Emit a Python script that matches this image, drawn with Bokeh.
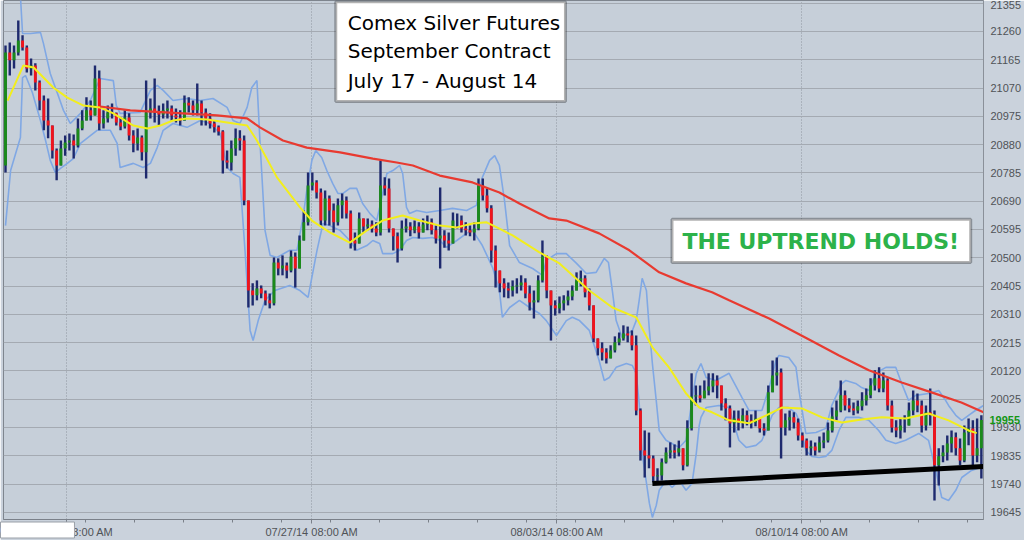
from bokeh.plotting import figure
from bokeh.models import (Range1d, FixedTicker, BoxAnnotation, Label, BasicTickFormatter,
                          LinearAxis, Title)
from bokeh.embed import file_html
from bokeh.resources import INLINE

# ---- data: 2-hour candles, Comex Silver Sep contract, Jul 17 - Aug 14 ----
first_open = 20810
closes = [21189, 21163, 21189, 21230, 21206, 21136, 21146, 21089, 21028, 20961,
          20944, 20860, 20810, 20867, 20887, 20894, 20877, 20934, 20961, 20995,
          20978, 21102, 20951, 20968, 20988, 20985, 20954, 20941, 20971, 20911,
          20884, 20904, 20854, 20988, 21001, 20988, 20981, 20995, 21001, 20978,
          20971, 20961, 21021, 21011, 20995, 21018, 20988, 20968, 20951, 20938,
          20924, 20827, 20820, 20867, 20901, 20894, 20692, 20390, 20374, 20397,
          20380, 20357, 20347, 20484, 20464, 20474, 20457, 20504, 20464, 20558,
          20619, 20743, 20753, 20719, 20625, 20699, 20659, 20619, 20676, 20692,
          20649, 20558, 20548, 20632, 20605, 20612, 20598, 20585, 20743, 20733,
          20598, 20572, 20531, 20598, 20605, 20592, 20605, 20585, 20612, 20619,
          20592, 20565, 20575, 20558, 20548, 20625, 20625, 20598, 20592, 20585,
          20598, 20743, 20709, 20666, 20524, 20457, 20414, 20397, 20390, 20404,
          20407, 20417, 20380, 20350, 20357, 20424, 20504, 20390, 20340, 20330,
          20347, 20357, 20370, 20390, 20424, 20431, 20384, 20340, 20229, 20196,
          20182, 20162, 20189, 20216, 20229, 20246, 20239, 20206, 19987, 19853,
          19836, 19826, 19766, 19769, 19813, 19846, 19853, 19846, 19860, 19803,
          19927, 20034, 20038, 20028, 20054, 20068, 20088, 20071, 20011, 19994,
          19944, 19960, 19947, 19971, 19954, 19947, 19960, 19927, 19920, 20048,
          20105, 20115, 19930, 19954, 19964, 19947, 19903, 19886, 19860, 19866,
          19853, 19880, 19886, 19920, 19967, 19987, 20038, 20004, 19994, 19987,
          20001, 20021, 20038, 20071, 20095, 20061, 20088, 20004, 19930, 19920,
          19937, 19937, 19987, 20021, 20004, 19937, 19981, 19971, 19803, 19833,
          19846, 19876, 19897, 19860, 19819, 19913, 19927, 19836, 19860, 19955]
highs = [21213, 21223, 21213, 21297, 21247, 21213, 21169, 21153, 21095, 21045,
         21035, 20934, 20867, 20894, 20911, 20917, 20914, 20968, 20995, 21039,
         21028, 21146, 21129, 20995, 21011, 21018, 20988, 20971, 20995, 20985,
         20928, 20934, 20911, 21095, 21035, 21102, 21011, 21018, 21028, 21011,
         21001, 20995, 21045, 21039, 21028, 21085, 21028, 21001, 20985, 20961,
         20944, 20928, 20860, 20894, 20934, 20928, 20911, 20692, 20414, 20424,
         20407, 20390, 20380, 20501, 20498, 20508, 20484, 20524, 20518, 20575,
         20659, 20786, 20786, 20760, 20733, 20726, 20709, 20682, 20699, 20716,
         20706, 20659, 20585, 20652, 20632, 20632, 20625, 20619, 20827, 20770,
         20766, 20598, 20585, 20625, 20632, 20619, 20625, 20619, 20632, 20642,
         20632, 20608, 20736, 20592, 20585, 20652, 20649, 20642, 20619, 20608,
         20619, 20766, 20766, 20733, 20676, 20541, 20457, 20431, 20417, 20424,
         20431, 20441, 20431, 20407, 20390, 20441, 20558, 20508, 20390, 20357,
         20370, 20374, 20390, 20407, 20451, 20457, 20441, 20397, 20340, 20229,
         20216, 20196, 20206, 20236, 20249, 20273, 20269, 20256, 20239, 19994,
         19920, 19913, 19836, 19793, 19826, 19863, 19880, 19873, 19886, 19860,
         19954, 20112, 20071, 20071, 20088, 20112, 20112, 20105, 20071, 20028,
         20004, 19987, 19987, 19994, 19987, 19974, 19987, 19960, 19944, 20071,
         20155, 20165, 20128, 19977, 19987, 19981, 19960, 19913, 19893, 19886,
         19880, 19900, 19913, 19947, 19997, 20021, 20088, 20054, 20028, 20014,
         20021, 20048, 20061, 20095, 20122, 20132, 20115, 20095, 20021, 19954,
         19960, 19971, 20014, 20054, 20044, 20021, 20004, 20061, 19987, 19860,
         19870, 19903, 19920, 19913, 19893, 19937, 19960, 19954, 19960, 19971]
lows = [20786, 21112, 21136, 21179, 21196, 21122, 21112, 21062, 20995, 20928,
        20901, 20833, 20760, 20810, 20843, 20860, 20833, 20870, 20928, 20968,
        20961, 21011, 20928, 20934, 20954, 20968, 20944, 20928, 20934, 20894,
        20854, 20860, 20827, 20766, 20968, 20954, 20944, 20968, 20968, 20961,
        20954, 20944, 20968, 20988, 20978, 20978, 20944, 20944, 20934, 20921,
        20911, 20783, 20800, 20793, 20843, 20860, 20676, 20333, 20340, 20357,
        20364, 20340, 20330, 20340, 20441, 20441, 20431, 20451, 20400, 20474,
        20558, 20608, 20726, 20699, 20608, 20608, 20608, 20585, 20608, 20632,
        20632, 20531, 20524, 20558, 20585, 20592, 20585, 20572, 20575, 20709,
        20585, 20524, 20484, 20524, 20585, 20572, 20582, 20565, 20585, 20592,
        20578, 20548, 20464, 20534, 20524, 20548, 20598, 20585, 20575, 20572,
        20558, 20592, 20692, 20652, 20484, 20400, 20384, 20367, 20364, 20370,
        20380, 20390, 20364, 20323, 20296, 20350, 20417, 20364, 20222, 20306,
        20313, 20323, 20340, 20357, 20390, 20404, 20367, 20323, 20216, 20172,
        20155, 20145, 20162, 20182, 20206, 20222, 20216, 20189, 19971, 19819,
        19762, 19793, 19746, 19746, 19752, 19809, 19826, 19826, 19833, 19786,
        19799, 19920, 20004, 20014, 20028, 20038, 20048, 20028, 19987, 19954,
        19863, 19913, 19920, 19927, 19937, 19927, 19934, 19913, 19903, 19920,
        20048, 20071, 19826, 19903, 19920, 19927, 19886, 19863, 19836, 19836,
        19836, 19846, 19860, 19880, 19913, 19954, 19981, 19987, 19981, 19971,
        19977, 19987, 20004, 20028, 20054, 20048, 20048, 19987, 19913, 19897,
        19893, 19913, 19937, 19971, 19981, 19913, 19920, 19937, 19685, 19735,
        19813, 19819, 19846, 19836, 19803, 19813, 19870, 19803, 19813, 19759]

# indicator lines: (bar position, price)
ma_fast = [(0.5, 21028), (4.2, 21146), (6.6, 21139), (11.2, 21072), (14.5, 21038), (18.3, 21011),
           (22.2, 21005), (25.3, 20985), (30.0, 20944), (33.3, 20934), (36.3, 20944), (39.3, 20961),
           (42.6, 20968), (47.3, 20964), (52.0, 20954), (56.7, 20944), (59.0, 20894), (63.7, 20770),
           (69.1, 20669), (71.9, 20625), (76.1, 20585), (80.8, 20551), (84.8, 20592), (88.5, 20625),
           (93.2, 20642), (97.2, 20625), (101.9, 20608), (105.9, 20602), (109.6, 20615), (112.9, 20619),
           (115.9, 20598), (119.0, 20575), (125.3, 20518), (130.0, 20481), (137.0, 20390), (142.4, 20333),
           (148.0, 20300), (151.8, 20199), (155.7, 20132), (159.7, 20044), (162.8, 19997), (165.8, 19981),
           (169.8, 19954), (174.5, 19944), (178.5, 19971), (182.2, 19997), (186.9, 19994), (191.6, 19964),
           (196.3, 19947), (200.9, 19957), (205.6, 19964), (211.2, 19960), (216.6, 19977), (221.3, 19954),
           (226.0, 19920), (227.9, 19911)]
ma_slow = [(22.2, 21008), (29.3, 20995), (42.6, 20984), (49.6, 20978), (56.7, 20968), (59.7, 20938),
           (65.1, 20894), (70.7, 20870), (78.5, 20854), (86.2, 20833), (91.8, 20820), (95.6, 20810),
           (101.9, 20776), (109.6, 20753), (115.9, 20719), (120.6, 20682), (127.6, 20632), (131.6, 20625),
           (139.3, 20582), (146.4, 20525), (153.4, 20451), (159.7, 20414), (165.8, 20384), (169.8, 20357),
           (179.2, 20296), (189.0, 20222), (195.6, 20172), (202.6, 20122), (210.3, 20081), (217.3, 20048),
           (224.3, 20014), (229.5, 19981)]
band_upper = [(3.3, 21431), (4.0, 21253), (5.9, 21253), (8.2, 21257), (8.9, 21220), (10.5, 21119),
              (12.2, 21052), (13.6, 20995), (15.2, 20951), (17.6, 20985), (19.9, 21028), (22.2, 21102),
              (25.3, 21095), (26.0, 21011), (26.9, 20985), (31.6, 20988), (34.0, 21062), (35.6, 21079),
              (37.0, 21062), (39.3, 21028), (42.6, 21035), (45.7, 21028), (48.7, 21035), (52.0, 21005),
              (53.4, 20961), (55.0, 20951), (56.7, 21005), (57.8, 21072), (59.0, 21095), (59.7, 20894),
              (60.9, 20592), (62.1, 20508), (63.7, 20501), (66.7, 20525), (68.4, 20525), (69.8, 20635),
              (70.7, 20726), (71.9, 20827), (72.8, 20860), (74.2, 20837), (75.4, 20793), (76.8, 20749),
              (78.0, 20716), (79.2, 20716), (80.8, 20733), (82.4, 20733), (83.8, 20682), (85.5, 20649),
              (87.1, 20625), (87.8, 20669), (89.5, 20783), (90.9, 20793), (92.5, 20810), (93.2, 20783),
              (94.1, 20669), (94.8, 20649), (96.5, 20659), (98.8, 20652), (101.9, 20659), (104.9, 20666),
              (108.2, 20659), (110.5, 20676), (111.9, 20770), (113.6, 20827), (114.8, 20843), (115.9, 20810),
              (117.1, 20692), (118.3, 20541), (120.6, 20484), (123.7, 20464), (126.0, 20441), (126.9, 20491),
              (129.3, 20514), (131.6, 20514), (134.0, 20481), (136.3, 20447), (138.6, 20451), (140.5, 20498),
              (141.5, 20484), (142.4, 20390), (143.3, 20289), (144.7, 20232), (147.1, 20256), (148.0, 20289),
              (148.7, 20357), (149.4, 20431), (150.4, 20390), (151.1, 20256), (151.8, 20145), (152.7, 20021),
              (153.4, 19920), (155.0, 19887), (158.1, 19863), (159.7, 19887), (161.1, 20021), (162.1, 20112),
              (163.2, 20145), (164.4, 20098), (166.7, 20088), (169.8, 20112), (172.8, 20031), (174.5, 19987),
              (177.5, 19987), (179.2, 20064), (180.8, 20155), (181.5, 20172), (183.8, 20165), (185.5, 20132),
              (186.2, 20054), (187.8, 19910), (190.2, 19913), (192.5, 19927), (193.9, 20004), (196.3, 20078),
              (197.2, 20088), (199.5, 20078), (200.9, 20064), (202.6, 20054), (204.2, 20112), (206.6, 20132),
              (208.9, 20132), (210.3, 20078), (211.9, 20021), (213.6, 20038), (216.6, 20044), (219.0, 20054),
              (220.6, 20021), (221.3, 20004), (223.0, 19971), (224.4, 19954), (226.0, 19971), (227.6, 19987),
              (229.5, 20004)]
band_lower = [(0.0, 20608), (1.2, 20793), (2.8, 20870), (3.5, 20904), (4.0, 21105), (4.7, 21112),
              (6.3, 21055), (8.2, 20961), (9.4, 20894), (10.5, 20827), (11.7, 20786), (12.9, 20800),
              (14.5, 20817), (15.9, 20833), (17.6, 20884), (21.5, 20928), (24.6, 20928), (26.2, 20884),
              (26.9, 20803), (30.0, 20817), (32.3, 20803), (34.0, 20817), (35.6, 20870), (37.0, 20928),
              (39.3, 20951), (42.6, 20938), (45.7, 20961), (48.0, 20951), (50.4, 20917), (52.0, 20803),
              (53.4, 20783), (55.0, 20770), (56.2, 20525), (57.4, 20256), (58.1, 20222), (59.3, 20289),
              (60.9, 20357), (63.2, 20390), (66.7, 20407), (69.1, 20390), (71.0, 20367), (73.1, 20525),
              (74.5, 20615), (76.1, 20608), (78.5, 20592), (80.8, 20558), (82.4, 20525), (84.8, 20541),
              (86.2, 20558), (87.8, 20548), (88.5, 20514), (90.9, 20514), (92.5, 20525), (94.1, 20558),
              (95.6, 20568), (97.9, 20565), (100.2, 20568), (101.9, 20558), (103.5, 20535), (105.9, 20558),
              (108.2, 20582), (109.6, 20592), (111.9, 20541), (114.3, 20467), (115.9, 20390), (116.6, 20300),
              (118.3, 20333), (120.6, 20357), (123.0, 20333), (125.3, 20313), (126.9, 20289), (129.3, 20239),
              (131.6, 20289), (133.0, 20300), (134.7, 20289), (137.0, 20256), (139.3, 20155), (140.5, 20088),
              (141.7, 20098), (143.3, 20132), (145.7, 20145), (147.1, 20138), (148.0, 20112), (148.7, 20011),
              (149.4, 19843), (151.1, 19675), (151.8, 19628), (152.7, 19668), (153.4, 19719), (155.0, 19752),
              (156.4, 19729), (158.1, 19752), (159.7, 19719), (161.1, 19742), (162.1, 19843), (162.8, 19937),
              (163.2, 19964), (164.4, 19997), (167.4, 20004), (169.8, 19997), (172.1, 19887), (173.8, 19863),
              (176.1, 19870), (177.5, 19887), (178.5, 19920), (179.9, 19971), (181.5, 19997), (183.8, 19997),
              (185.5, 19977), (186.2, 19954), (187.8, 19853), (189.2, 19833), (190.9, 19829), (192.5, 19833),
              (193.9, 19853), (195.6, 19920), (197.2, 19964), (200.2, 19964), (202.6, 19954), (204.9, 19920),
              (206.6, 19887), (208.9, 19876), (211.2, 19887), (214.3, 19910), (216.6, 19887), (218.3, 19786),
              (219.7, 19695), (221.3, 19685), (223.0, 19719), (224.4, 19762), (226.7, 19786), (229.5, 19799)]
trend_line = [(151.8, 19742), (229.5, 19799)]
last_price = 19955

# axis labels
y_ticks = [19645, 19740, 19835, 19930, 20025, 20120, 20215, 20310, 20405, 20500,
           20595, 20690, 20785, 20880, 20975, 21070, 21165, 21260, 21355]
x_major = [14.4, 71.9, 129.4, 186.9]
x_major_labels = ["07/20/14 08:00 AM", "07/27/14 08:00 AM", "08/03/14 08:00 AM", "08/10/14 08:00 AM"]
x_minor = [18.7, 30.2, 41.7, 53.2, 64.7, 76.2, 87.7, 99.2, 110.7, 122.2, 133.7, 145.2,
           156.7, 168.2, 179.7, 191.2, 202.7, 214.2, 225.7]
title_lines = ["Comex Silver Futures", "September Contract", "July 17 - August 14"]
callout = "THE UPTREND HOLDS!"

# ---- derived ----
n = len(closes)
xs = list(range(n))
opens = [first_open] + closes[:-1]
hi = [max(h, o, c) for h, o, c in zip(highs, opens, closes)]
lo = [min(l, o, c) for l, o, c in zip(lows, opens, closes)]
up = [i for i in xs if closes[i] >= opens[i]]
dn = [i for i in xs if closes[i] < opens[i]]

BG = "#C6CFD9"
BORDER = "#CAD2DC"
p = figure(width=1024, height=540, output_backend="svg", toolbar_location=None,
           x_range=Range1d(-0.47, 229.5), y_range=Range1d(19621, 21364),
           y_axis_location="right", min_border_left=3, min_border_top=0,
           min_border_right=39, min_border_bottom=21)
p.background_fill_color = BG
p.border_fill_color = BORDER
p.outline_line_color = "#7E858E"

# grids
p.ygrid.ticker = FixedTicker(ticks=y_ticks)
p.ygrid.grid_line_color = "#A4AAB2"
p.ygrid.grid_line_width = 1
p.xgrid.ticker = FixedTicker(ticks=x_major)
p.xgrid.grid_line_color = "#8E959E"
p.xgrid.grid_line_dash = "1 2"

# y axis (right)
ya = p.yaxis[0]
ya.ticker = FixedTicker(ticks=y_ticks)
ya.formatter = BasicTickFormatter(use_scientific=False)
ya.major_tick_out = 0
ya.major_tick_in = 0
ya.minor_tick_out = 0
ya.minor_tick_in = 0
ya.major_label_standoff = 7
ya.axis_line_color = "#8A9099"
ya.major_label_text_font = "Liberation Sans"
ya.major_label_text_font_size = "11px"
ya.major_label_text_color = "#505357"

# last-price tag: a second right axis with a single tick, pulled back over the first
tag = LinearAxis(ticker=FixedTicker(ticks=[last_price]),
                 formatter=BasicTickFormatter(use_scientific=False),
                 axis_line_color=None, major_tick_line_color=None, minor_tick_line_color=None,
                 major_tick_out=0, major_tick_in=0, minor_tick_out=0, minor_tick_in=0,
                 major_label_standoff=-35, major_label_text_font="Liberation Sans",
                 major_label_text_font_size="11px", major_label_text_font_style="bold",
                 major_label_text_color="#149614")
p.add_layout(tag, "right")

# x axis
xa = p.xaxis[0]
xa.ticker = FixedTicker(ticks=x_major, minor_ticks=x_minor)
xa.major_label_overrides = {t: s for t, s in zip(x_major, x_major_labels)}
xa.major_tick_out = 4
xa.major_tick_in = 0
xa.minor_tick_out = 3
xa.minor_tick_in = 0
xa.major_tick_line_color = "#7A8089"
xa.minor_tick_line_color = "#7A8089"
xa.axis_line_color = "#7A8089"
xa.major_label_standoff = 2
xa.major_label_text_font = "Liberation Sans"
xa.major_label_text_font_size = "11px"
xa.major_label_text_color = "#505357"

# white patch over the start of the first date label (a blank title pulled up)
p.add_layout(Title(text="07/20/14 08", text_font="Liberation Sans", text_font_size="14px",
                   text_font_style="normal", text_color="white", align="left", offset=-3,
                   vertical_align="top", standoff=-37, background_fill_color="white",
                   background_fill_alpha=1, border_line_color="#9AA0A8"), "below")

# Bollinger bands
p.line([a for a, b in band_upper], [b for a, b in band_upper], color="#80A8E4", line_width=1.6)
p.line([a for a, b in band_lower], [b for a, b in band_lower], color="#80A8E4", line_width=1.6)

# candles
p.segment(xs, hi, xs, lo, color="#1E2A6E", line_width=2.4)
p.vbar(x=up, width=0.68, top=[closes[i] for i in up], bottom=[opens[i] for i in up],
       fill_color="#1B8A1B", line_color=None)
p.vbar(x=dn, width=0.68, top=[opens[i] for i in dn], bottom=[closes[i] for i in dn],
       fill_color="#F0141C", line_color=None)

# moving averages
p.line([a for a, b in ma_fast], [b for a, b in ma_fast], color="#F2EE1C", line_width=2)
p.line([a for a, b in ma_slow], [b for a, b in ma_slow], color="#E83A30", line_width=2.2)

# trend line
p.line([a for a, b in trend_line], [b for a, b in trend_line], color="black", line_width=5)

# title box
p.add_layout(BoxAnnotation(left=77.5, right=131.4, top=21360, bottom=21025,
                           fill_color="white", fill_alpha=1, line_color="black", line_width=3))
for txt, yv in zip(title_lines, [21290, 21193, 21092]):
    p.add_layout(Label(x=80.3, y=yv, text=txt, text_font="DejaVu Sans", text_font_size="20px",
                       text_color="black", text_baseline="middle", text_align="left"))

# callout box
p.add_layout(BoxAnnotation(left=156.4, right=226.5, top=20629, bottom=20484,
                           fill_color="white", fill_alpha=1, line_color="black", line_width=3))
p.add_layout(Label(x=191.3, y=20555, text=callout, text_font="DejaVu Sans", text_font_size="22px",
                   text_font_style="bold", text_color="#2DB24A", text_baseline="middle",
                   text_align="center"))

open("out.html", "w").write(file_html(p, INLINE))
